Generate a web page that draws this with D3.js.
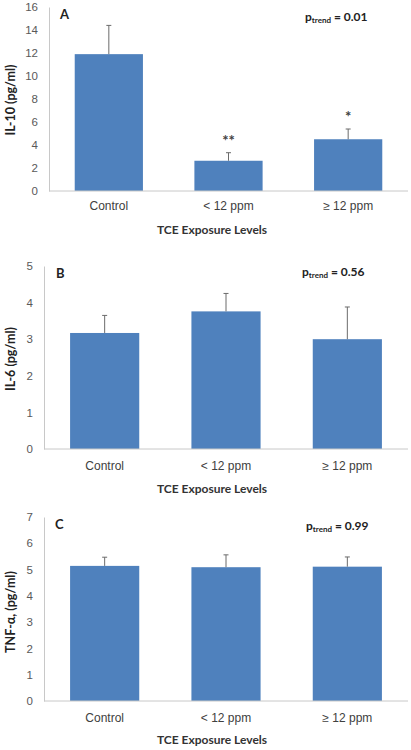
<!DOCTYPE html>
<html><head><meta charset="utf-8">
<script src="https://cdn.jsdelivr.net/npm/d3@7"></script>
<style>
body{margin:0;background:#fff;}
svg{display:block;font-family:Lato,"Open Sans",sans-serif;}
</style></head>
<body><svg id="c" width="411" height="750"></svg>
<script>
const categories = ["Control", "< 12 ppm", "\u2265 12 ppm"];
const il10Means = [11.9, 2.63, 4.5];
const il10Errors = [2.5, 0.7, 0.89];
const il10Marks = ["", "**", "*"];
const il6Means = [3.17, 3.76, 3.0];
const il6Errors = [0.48, 0.49, 0.88];
const tnfMeans = [5.14, 5.09, 5.11];
const tnfErrors = [0.33, 0.47, 0.37];
const il10Ticks = [0, 2, 4, 6, 8, 10, 12, 14, 16];
const il6Ticks = [0, 1, 2, 3, 4, 5];
const tnfTicks = [0, 1, 2, 3, 4, 5, 6, 7];
const pTrends = ["0.01", "0.56", "0.99"];
const panelLetters = ["A", "B", "C"];
const yTitles = ["IL-10 (pg/ml)", "IL-6 (pg/ml)", "TNF-\u03b1, (pg/ml)"];
const xTitle = "TCE Exposure Levels";

const svg = d3.select("#c");
const barColor = "#4f81bd";

const panels = [
  {means: il10Means, errs: il10Errors, marks: il10Marks, ticks: il10Ticks, left: 49, top: 7, bottom: 191, right: 408, xl: 207, xt: 231, yc: 100, lx: 60, ly: 16, px: 305, py: 17},
  {means: il6Means, errs: il6Errors, marks: null, ticks: il6Ticks, left: 44, top: 266, bottom: 449, right: 408, xl: 467, xt: 490, yc: 359, lx: 56, ly: 275, px: 302, py: 272},
  {means: tnfMeans, errs: tnfErrors, marks: null, ticks: tnfTicks, left: 44, top: 517, bottom: 701, right: 408, xl: 719, xt: 741, yc: 612, lx: 55, ly: 526, px: 306, py: 526}
];

panels.forEach((p, i) => {
  const g = svg.append("g");
  const x = d3.scaleBand().domain(categories).range([p.left, p.right]).paddingInner(0.43).paddingOuter(0.215);
  const y = d3.scaleLinear().domain([0, d3.max(p.ticks)]).range([p.bottom, p.top]);

  // y axis
  const ya = g.append("g").attr("transform", `translate(${p.left},0)`)
    .call(d3.axisLeft(y).tickValues(p.ticks).tickFormat(d3.format("d")).tickSize(0).tickPadding(11));
  ya.select(".domain").attr("stroke", "#c8c8c8");
  ya.selectAll("text").attr("fill", "#595959").attr("font-size", 11.5);

  // bars
  g.selectAll("rect.bar").data(p.means).join("rect")
    .attr("x", (d, j) => x(categories[j]))
    .attr("width", x.bandwidth())
    .attr("y", d => y(d))
    .attr("height", d => y(0) - y(d))
    .attr("fill", barColor);

  // error bars
  const eb = g.selectAll("g.err").data(p.means).join("g");
  eb.append("line")
    .attr("x1", (d, j) => x(categories[j]) + x.bandwidth() / 2)
    .attr("x2", (d, j) => x(categories[j]) + x.bandwidth() / 2)
    .attr("y1", d => y(d))
    .attr("y2", (d, j) => y(d + p.errs[j]))
    .attr("stroke", "#6b6b6b").attr("stroke-width", 1);
  eb.append("line")
    .attr("x1", (d, j) => x(categories[j]) + x.bandwidth() / 2 - 2.5)
    .attr("x2", (d, j) => x(categories[j]) + x.bandwidth() / 2 + 2.5)
    .attr("y1", (d, j) => y(d + p.errs[j]))
    .attr("y2", (d, j) => y(d + p.errs[j]))
    .attr("stroke", "#6b6b6b").attr("stroke-width", 1);

  // x axis
  const xa = g.append("g").attr("transform", `translate(0,${p.bottom})`)
    .call(d3.axisBottom(x).tickSize(0).tickPadding(0).tickSizeOuter(0));
  xa.select(".domain").attr("stroke", "#c8c8c8").attr("d", `M${p.left},0H${p.right}`);
  xa.selectAll("text").attr("fill", "#404040").attr("font-size", 12)
    .attr("dy", null).attr("y", p.xl - p.bottom).attr("dominant-baseline", "middle");

  // asterisks
  if (p.marks) {
    g.selectAll("text.mark").data(p.means).join("text")
      .attr("x", (d, j) => x(categories[j]) + x.bandwidth() / 2)
      .attr("y", (d, j) => y(d + p.errs[j]) - 7)
      .attr("text-anchor", "middle").attr("font-size", 15).attr("font-weight", "bold")
      .attr("fill", "#404040")
      .text((d, j) => p.marks[j]);
  }

  // x title
  g.append("text").attr("x", 212).attr("y", p.xt).attr("text-anchor", "middle")
    .attr("dominant-baseline", "middle").attr("font-size", 12).attr("font-weight", "bold")
    .attr("fill", "#333").text(xTitle);

  // y title
  g.append("text").attr("transform", `translate(12,${p.yc}) rotate(-90)`)
    .attr("text-anchor", "middle").attr("dominant-baseline", "middle")
    .attr("font-size", 12.5).attr("font-weight", "bold").attr("fill", "#222").text(yTitles[i]);

  // panel letter
  g.append("text").attr("x", p.lx).attr("y", p.ly).attr("dominant-baseline", "middle")
    .attr("font-size", 13).attr("font-weight", "bold").attr("fill", "#222").text(panelLetters[i]);

  // p trend
  const pt = g.append("text").attr("x", p.px).attr("y", p.py + 4)
    .attr("font-size", 12).attr("font-weight", "bold").attr("fill", "#222");
  pt.append("tspan").text("p");
  pt.append("tspan").attr("font-size", 8).attr("dy", 2).text("trend");
  pt.append("tspan").attr("dy", -2).text(" = " + pTrends[i]);
});
</script></body></html>
